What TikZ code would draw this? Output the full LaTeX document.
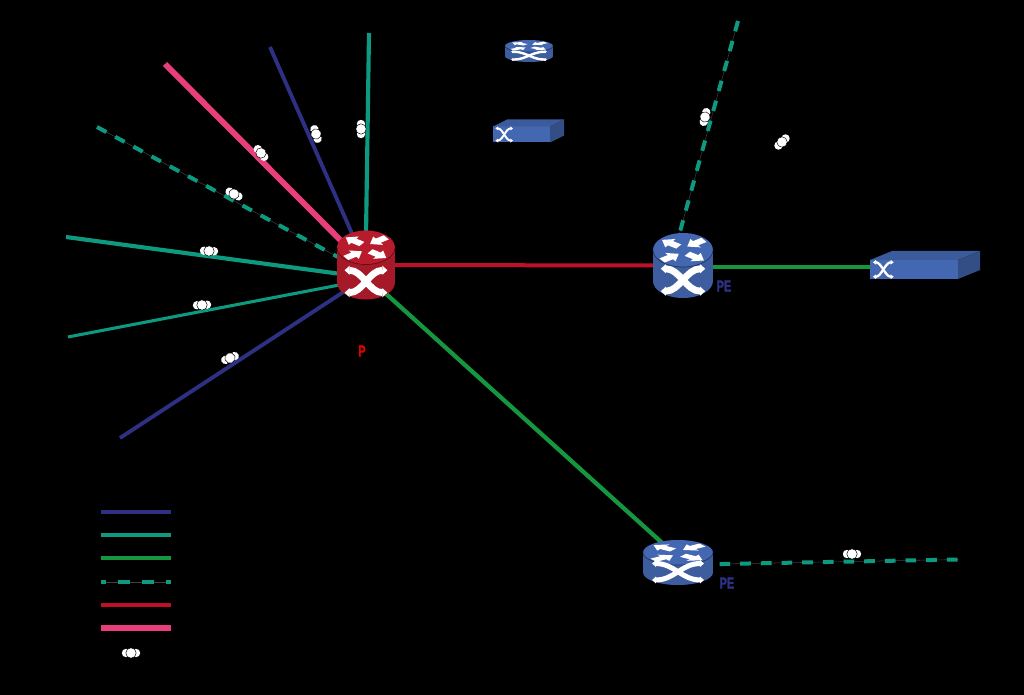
\documentclass[tikz,border=0pt]{standalone}
\usepackage{fontspec}
\usepackage{xcolor}
\usepackage{tikz}
\usetikzlibrary{positioning, arrows.meta, calc, shapes.geometric}
\newfontfamily\narrowfont{Liberation Sans Bold}[FakeStretch=0.68,FakeBold=1.2]

\definecolor{linknavy}{HTML}{2E3084}
\definecolor{linkteal}{HTML}{0E9A80}
\definecolor{linkgreen}{HTML}{16963F}
\definecolor{linkred}{HTML}{BE1128}
\definecolor{linkpink}{HTML}{E83F7C}
\definecolor{linkgrey}{HTML}{3C3C3C}
\definecolor{routerred}{HTML}{B81C2C}
\definecolor{routerblue}{HTML}{4467B1}

\newcommand{\roofarrow}[3]{%
  \fill[white,shift={(#1,#2)},rotate=#3]
    (-.34,-.15) -- (.0,-.15) -- (.0,-.3) -- (.34,0) -- (.0,.3) -- (.0,.15) -- (-.34,.15) -- cycle;}

\begin{document}
\begin{tikzpicture}[
  x=0.75pt, y=-0.75pt,
  font=\narrowfont\fontsize{12}{12}\selectfont,
  routerbox/.style={ellipse, inner sep=0pt, outer sep=0pt},
  switchbox/.style={rectangle, inner sep=0pt, outer sep=0pt},
  navy/.style={draw=linknavy, line width=2.9pt},
  teal/.style={draw=linkteal, line width=3.1pt},
  thinteal/.style={draw=linkteal, line width=2.3pt},
  green/.style={draw=linkgreen, line width=3.2pt},
  red/.style={draw=linkred, line width=3pt},
  pink/.style={draw=linkpink, line width=4.4pt},
  dashteal/.style={draw=linkgrey, line width=.4pt,
                   postaction={draw=linkteal, line width=3pt, dash pattern=on 8pt off 7.5pt}},
  legdash/.style={draw=linkgrey, line width=.4pt,
                  postaction={draw=linkteal, line width=3pt, dash pattern=on 9pt off 9pt, dash phase=5.2pt}},
  pics/router/.style n args={4}{code={
    \fill[#1!90!black] (-#2,-#4) rectangle (#2,#4);
    \begin{scope}[shift={(0,#4)},xscale=#2,yscale=#3]
      \fill[#1!90!black] (0,0) circle[radius=1];
    \end{scope}
    \begin{scope}[shift={(0,-#4)},xscale=#2,yscale=#3]
      \fill[#1] (0,0) circle[radius=1];
      \draw[#1!50!black, line width=.5pt] (-1,0) arc[start angle=180,end angle=0,radius=1];
      \roofarrow{-.42}{-.4}{145}
      \roofarrow{.42}{-.4}{215}
      \roofarrow{-.42}{.42}{35}
      \roofarrow{.42}{.42}{-35}
    \end{scope}
    \begin{scope}[shift={(0,#4-.06*#3)},xscale=#2,yscale=#3]
      \draw[white, line width=#3*.3pt, {Triangle[length=0pt .75 0,width=0pt 1.3 0]}-{Triangle[length=0pt .75 0,width=0pt 1.3 0]}]
        (-.74,-.66) .. controls (-.1,-.66) and (.1,.66) .. (.74,.66);
      \draw[white, line width=#3*.3pt, {Triangle[length=0pt .75 0,width=0pt 1.3 0]}-{Triangle[length=0pt .75 0,width=0pt 1.3 0]}]
        (-.74,.66) .. controls (-.1,.66) and (.1,-.66) .. (.74,-.66);
    \end{scope}
  }},
  pics/switch/.style n args={4}{code={
    \fill[routerblue] (0,0) rectangle (#1,-#2);
    \fill[routerblue!88!black] (0,-#2) -- (#3,-#2-#4) -- (#1+#3,-#2-#4) -- (#1,-#2) -- cycle;
    \fill[routerblue!75!black] (#1,0) -- (#1+#3,-#4) -- (#1+#3,-#2-#4) -- (#1,-#2) -- cycle;
    \begin{scope}[shift={(.7*#2,-.5*#2)},scale=#2]
      \draw[white, line width=#2*.09pt, {Triangle[length=0pt 1.4 0,width=0pt 2 0]}-{Triangle[length=0pt 1.4 0,width=0pt 2 0]}]
        (-.55,-.38) .. controls (-.1,-.38) and (.1,.38) .. (.55,.38);
      \draw[white, line width=#2*.09pt, {Triangle[length=0pt 1.4 0,width=0pt 2 0]}-{Triangle[length=0pt 1.4 0,width=0pt 2 0]}]
        (-.55,.38) .. controls (-.1,.38) and (.1,-.38) .. (.55,-.38);
    \end{scope}
  }},
  pics/bundle/.style={code={
    \fill[white] (-5,0) circle[radius=4.2];
    \fill[white] (5,0) circle[radius=4.2];
    \filldraw[fill=white, draw=black, line width=.35pt] (0,0) circle[radius=5.2];
  }},
]

\fill[black] (0,0) rectangle (1024,695);
\useasboundingbox (0,0) rectangle (1024,695);

% Routers and switches, only their outlines for now
\node[routerbox, minimum width=40.5pt, minimum height=45pt] (P) at (366,265) {};
\node[routerbox, minimum width=40.5pt, minimum height=45pt] (PEa) at (683,265.5) {};
\node[routerbox, minimum width=49.5pt, minimum height=30pt] (PEb) at (678,562.5) {};
\node[routerbox, minimum width=36pt, minimum height=16pt] (legrouter) at (529,51) {};
\node[switchbox, minimum width=82.5pt, minimum height=21pt] (SWa) at (925,265) {};
\node[switchbox, minimum width=53.25pt, minimum height=17.25pt] (legswitch) at (528.5,131) {};

% Free ends of the links
\coordinate (endpink) at (165,64);
\coordinate (endnavya) at (270,47);
\coordinate (endteala) at (369,33);
\coordinate (enddasha) at (97,127);
\coordinate (endtealb) at (66,237);
\coordinate (endtealc) at (68,337);
\coordinate (endnavyb) at (120,438);
\coordinate (enddashb) at (738,21);
\coordinate (enddashc) at (958,559.5);

% --- Links into P ---
\draw[pink] (endpink) -- (P.136);
\draw[navy] (endnavya) -- (P.114);
\draw[teal] (endteala) -- (P.90);
\draw[dashteal] (enddasha) -- (P.165);
\draw[teal] (endtealb) -- (P.199);
\draw[thinteal] (endtealc) -- (P.222);
\draw[navy] (endnavyb) -- (P.234);

% --- Links between routers ---
\draw[red] (P.east) -- (PEa.west);
\draw[green] (P.302) -- (PEb.128);
\draw[green] (PEa.-3) -- (PEa.-3 -| SWa.west);
\draw[dashteal] (enddashb) -- (PEa.98);
\draw[dashteal, shorten <=6.5pt] (PEb.-3) -- (enddashc);

% --- Legend lines ---
\foreach \legname/\legy/\legstyle in {a/512/navy, b/535/teal, c/558/green, d/582/legdash, e/605/red, f/628/pink} {
  \coordinate (leg\legname l) at (101,\legy);
  \coordinate (leg\legname r) at (171,\legy);
  \draw[\legstyle] (leg\legname l) -- (leg\legname r);
}

% Device icons go on top of the link ends
\pic at (P) {router={routerred}{29}{17}{17.5}};
\pic at (PEa) {router={routerblue}{30}{17}{15.5}};
\pic at (PEb) {router={routerblue}{35}{12.5}{10}};
\pic at (legrouter) {router={routerblue}{24}{6}{5}};
\pic at (SWa.south west) {switch={88}{19}{22}{9}};
\pic at (legswitch.south west) {switch={57}{16}{14}{7}};

% Bundle marks
\pic[rotate=-50] at (261,153) {bundle};
\pic[rotate=-72] at (316,134) {bundle};
\pic[rotate=90] at (361,129) {bundle};
\pic[rotate=-28] at (234,194) {bundle};
\pic[rotate=-3] at (209,251) {bundle};
\pic[rotate=3] at (202,305) {bundle};
\pic[rotate=22] at (230,358) {bundle};
\pic[rotate=75] at (705,117) {bundle};
\pic[rotate=45] at (782,142) {bundle};
\pic at (852,554) {bundle};
\pic at (131,653) {bundle};

% Labels
\node[text=red!90!black] (lblP) at (362,351) {P};
\node[text=linknavy] (lblPEa) at (724,286) {PE};
\node[text=linknavy] (lblPEb) at (727,583) {PE};

\end{tikzpicture}
\end{document}
